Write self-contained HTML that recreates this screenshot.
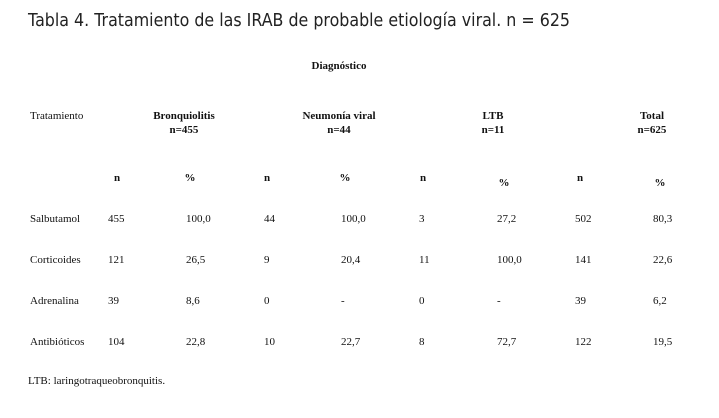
<!DOCTYPE html>
<html><head><meta charset="utf-8"><style>html,body{margin:0;padding:0;background:#fff}</style></head>
<body>
<svg width="719" height="418" xmlns="http://www.w3.org/2000/svg" style="display:block">
<rect width="719" height="418" fill="#fff"/>
<text x="28" y="26" font-family="DejaVu Sans, sans-serif" font-size="18" fill="#222" textLength="542" lengthAdjust="spacingAndGlyphs">Tabla 4. Tratamiento de las IRAB de probable etiología viral. n = 625</text>
<g font-family="Liberation Serif, serif" font-size="11" fill="#111">
<g font-weight="bold" text-anchor="middle">
<text x="339" y="69">Diagnóstico</text>
<text x="184" y="119">Bronquiolitis</text><text x="184" y="133">n=455</text>
<text x="339" y="119">Neumonía viral</text><text x="339" y="133">n=44</text>
<text x="493" y="119">LTB</text><text x="493" y="133">n=11</text>
<text x="652" y="119">Total</text><text x="652" y="133">n=625</text>
<text x="117" y="181">n</text><text x="190" y="181">%</text>
<text x="267" y="181">n</text><text x="345" y="181">%</text>
<text x="423" y="181">n</text><text x="504" y="186">%</text>
<text x="580" y="181">n</text><text x="660" y="186">%</text>
</g>
<text x="30" y="119">Tratamiento</text>
<g>
<text x="30" y="222">Salbutamol</text><text x="108" y="222">455</text><text x="186" y="222">100,0</text><text x="264" y="222">44</text><text x="341" y="222">100,0</text><text x="419" y="222">3</text><text x="497" y="222">27,2</text><text x="575" y="222">502</text><text x="653" y="222">80,3</text>
<text x="30" y="263">Corticoides</text><text x="108" y="263">121</text><text x="186" y="263">26,5</text><text x="264" y="263">9</text><text x="341" y="263">20,4</text><text x="419" y="263">11</text><text x="497" y="263">100,0</text><text x="575" y="263">141</text><text x="653" y="263">22,6</text>
<text x="30" y="304">Adrenalina</text><text x="108" y="304">39</text><text x="186" y="304">8,6</text><text x="264" y="304">0</text><text x="341" y="304">-</text><text x="419" y="304">0</text><text x="497" y="304">-</text><text x="575" y="304">39</text><text x="653" y="304">6,2</text>
<text x="30" y="345">Antibióticos</text><text x="108" y="345">104</text><text x="186" y="345">22,8</text><text x="264" y="345">10</text><text x="341" y="345">22,7</text><text x="419" y="345">8</text><text x="497" y="345">72,7</text><text x="575" y="345">122</text><text x="653" y="345">19,5</text>
<text x="28" y="384">LTB: laringotraqueobronquitis.</text>
</g>
</g>
</svg>
</body></html>
